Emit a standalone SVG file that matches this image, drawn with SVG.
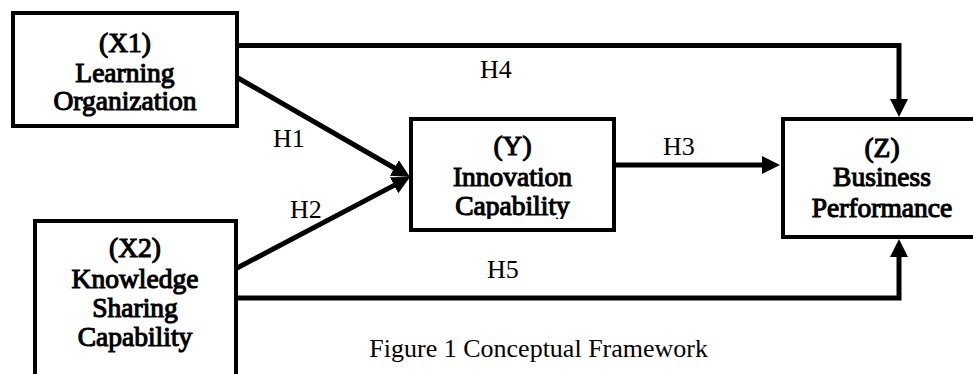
<svg xmlns="http://www.w3.org/2000/svg" width="973" height="374" viewBox="0 0 973 374">
  <style>
    .box { fill: #ffffff; stroke: #000000; stroke-width: 4; }
    .nt { font-family: "Liberation Serif", "Times New Roman", serif; font-weight: normal; font-size: 27.5px; fill: #000000; stroke: #000000; stroke-width: 1.1; text-anchor: middle; }
    .lbl { font-family: "Liberation Serif", "Times New Roman", serif; font-size: 26px; fill: #000000; }
    .edge { fill: none; stroke: #000000; stroke-width: 5; stroke-linejoin: miter; }
  </style>
  <defs>
    <marker id="arrow" markerUnits="userSpaceOnUse" viewBox="0 0 18 18" markerWidth="18" markerHeight="18" refX="8" refY="9" orient="auto">
      <path d="M0,0 L18,9 L0,18 z" fill="#000000"/>
    </marker>
    <clipPath id="clipY">
      <rect x="409" y="100" width="210" height="119"/>
    </clipPath>
  </defs>
  <rect width="973" height="374" fill="#ffffff"/>

  <g id="connectors">
    <path class="edge" d="M239,45.5 H899 V107" marker-end="url(#arrow)"/>
    <path class="edge" d="M237,298 H899 V249" marker-end="url(#arrow)"/>
    <path class="edge" d="M616,165 H770" marker-end="url(#arrow)"/>
    <path class="edge" d="M238,78 L401.3,172" marker-end="url(#arrow)"/>
    <path class="edge" d="M237,268 L401.2,181.6" marker-end="url(#arrow)"/>
    <text class="lbl" x="273" y="147">H1</text>
    <text class="lbl" x="290" y="218">H2</text>
    <text class="lbl" x="663" y="155">H3</text>
    <text class="lbl" x="480" y="78">H4</text>
    <text class="lbl" x="487" y="278">H5</text>
  </g>

  <g id="X1">
    <rect class="box" x="13" y="13" width="224" height="113"/>
    <text class="nt" x="125" y="52">(X1)</text>
    <text class="nt" x="125" y="82">Learning</text>
    <text class="nt" x="125" y="110">Organization</text>
  </g>

  <g id="X2">
    <rect class="box" x="35" y="221" width="201" height="165"/>
    <text class="nt" x="135" y="257">(X2)</text>
    <text class="nt" x="135" y="288">Knowledge</text>
    <text class="nt" x="135" y="317">Sharing</text>
    <text class="nt" x="135" y="346">Capability</text>
  </g>

  <g id="Y">
    <rect class="box" x="411" y="119" width="203" height="111"/>
    <g clip-path="url(#clipY)">
      <text class="nt" x="512.5" y="155">(Y)</text>
      <text class="nt" x="512.5" y="186">Innovation</text>
      <text class="nt" x="512.5" y="215">Capability</text>
    </g>
  </g>

  <g id="Z">
    <rect class="box" x="783" y="119" width="200" height="118"/>
    <text class="nt" x="882" y="157">(Z)</text>
    <text class="nt" x="882" y="186">Business</text>
    <text class="nt" x="882" y="217">Performance</text>
  </g>

  <g id="caption">
    <text class="lbl" x="708" y="357" text-anchor="end">Figure 1 Conceptual Framework</text>
  </g>
</svg>
